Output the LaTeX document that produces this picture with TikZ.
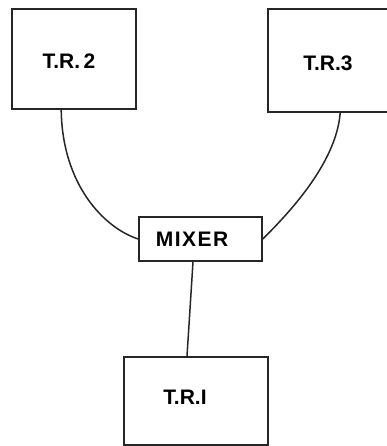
\documentclass[tikz,border=0pt]{standalone}
\usepackage{fontspec}
\setmainfont{Liberation Sans}
\usetikzlibrary{calc}
\tikzset{
  box/.style={draw=black!85, line width=1.6pt, inner sep=0pt, fill=none},
  lbl/.style={font=\fontsize{21}{22}\selectfont\bfseries, inner sep=0pt},
  wire/.style={draw=black!85, line width=1.5pt}
}
\begin{document}
\begin{tikzpicture}[x=1pt,y=-1pt]
\useasboundingbox (0,0) rectangle (387,446);
\clip (0,0) rectangle (387,446);
% boxes
\node[box, minimum width=124pt, minimum height=100pt] (tr2) at (74,59) {};
\node[box, minimum width=126pt, minimum height=103pt] (tr3) at (331,60.5) {};
\node[box, minimum width=123pt, minimum height=44pt] (mix) at (200.5,239) {};
\node[box, minimum width=144pt, minimum height=88pt] (tr1) at (196,401) {};
% labels
\node[lbl] (t2) at (69,61) {T.R.\,2};
\node[lbl] (t3) at (328,63) {T.R.3};
\node[lbl] (tm) at (192,239) {\addfontfeatures{LetterSpace=7}MIXER};
\node[lbl] (t1) at (185,397) {T.R.I};
% connectors
\draw[wire] ($(tr2.south west)+(50,0)$) .. controls +(1,75) and +(-34,-11) .. (mix.west);
\draw[wire] ($(tr3.south west)+(73,0)$) .. controls +(-4,52) and +(22,-22) .. (mix.east);
\draw[wire] ($(mix.south)+(-7.5,0)$) -- ($(tr1.north)+(-9,0)$);
\end{tikzpicture}
\end{document}
